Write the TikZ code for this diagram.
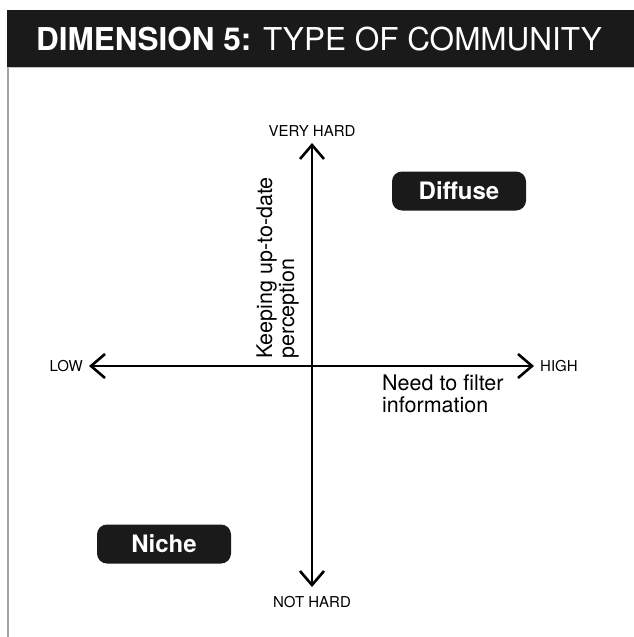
\documentclass[tikz,border=0pt]{standalone}
\usepackage{fontspec}
\setmainfont{TeX Gyre Heros}
\usetikzlibrary{arrows.meta, positioning}
\definecolor{band}{HTML}{1A1A1A}
\tikzset{
  pill/.style={fill=band, rounded corners=10pt, text=white, font=\fontsize{24}{26}\selectfont\bfseries,
    minimum width=134pt, minimum height=39pt, inner sep=0pt},
  axislabel/.style={font=\fontsize{15}{17}\selectfont, inner sep=1pt},
  note/.style={font=\fontsize{21.5}{22}\selectfont, align=left, inner sep=0pt},
  arr/.style={{Straight Barb[length=14pt, width=24pt]}-{Straight Barb[length=14pt, width=24pt]}, line width=2.6pt},
}
\begin{document}
\begin{tikzpicture}[x=1pt, y=-1pt]
  \useasboundingbox[fill=white] (0,0) rectangle (634,637);
  % header
  \fill[band] (7,10) rectangle (634,67);
  \draw[gray!70, line width=1.5pt] (8,67) -- (8,637);
  \draw[gray!50, line width=1pt] (8,67.5) -- (634,67.5);
  \node[text=white, font=\fontsize{31.5}{33}\selectfont] (title) at (319,39)
    {\textbf{DIMENSION 5:} TYPE OF COMMUNITY};
  % axes
  \coordinate (low) at (89,366);
  \coordinate (high) at (534,366);
  \coordinate (top) at (312,143);
  \coordinate (bottom) at (312,587);
  \draw[arr] (low) -- (high);
  \draw[arr] (bottom) -- (top);
  \node[axislabel, above=5pt of top] (vh) {VERY HARD};
  \node[axislabel, below=8pt of bottom] (nh) {NOT HARD};
  \node[axislabel, left=5pt of low] (lo) {LOW};
  \node[axislabel, right=5pt of high] (hi) {HIGH};
  % axis notes
  \node[note, rotate=90, anchor=south west] (keep) at (299,359)
    {Keeping up-to-date\\perception};
  \node[note, anchor=north west] (filter) at (382,375)
    {Need to filter\\information};
  % quadrants
  \node[pill] (diffuse) at (459,191) {Diffuse};
  \node[pill] (niche) at (164,544) {Niche};
\end{tikzpicture}
\end{document}
